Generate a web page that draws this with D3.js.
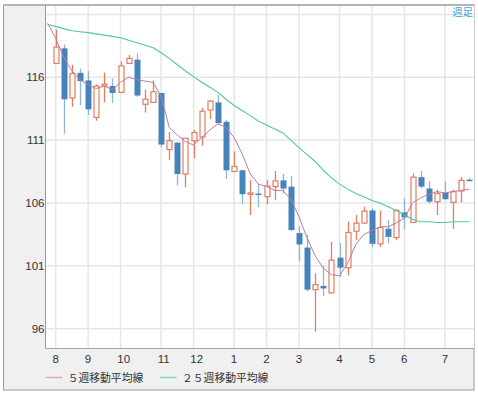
<!DOCTYPE html>
<html>
<head>
<meta charset="utf-8">
<script src="https://cdn.jsdelivr.net/npm/d3@7"></script>
<style>
  body { margin: 0; background: #fff; }
</style>
</head>
<body>
<div id="chart"></div>
<script>
// weekly candles, Aug .. Jul
var opens  = [117.1,118.3,114.35,116.35,115.75,112.8,115.3,115.3,114.8,117.1,117.4,113.85,114.0,114.75,110.25,110.8,108.3,110.95,111.25,113.4,114.0,112.45,108.5,108.6,106.7,106.75,106.5,107.3,107.8,107.3,103.6,102.45,99.1,99.4,98.85,101.65,100.85,103.75,104.4,105.4,102.75,103.95,103.25,105.25,104.45,108.05,107.15,106.1,106.8,106.05,106.95,107.85];
var highs  = [119.8,118.6,117.0,116.7,116.5,115.45,116.35,115.9,117.25,117.8,117.9,115.0,115.75,114.75,111.65,110.85,111.15,111.8,113.55,114.2,114.6,112.6,110.1,108.65,107.8,107.5,107.8,108.55,108.3,108.15,104.15,103.45,100.4,101.0,102.9,102.8,104.5,105.05,105.7,105.55,105.4,104.65,105.5,106.35,108.35,108.55,107.7,107.05,107.7,107.05,108.05,108.0];
var lows   = [117.1,111.5,113.65,113.8,113.0,112.55,114.0,113.95,114.8,117.1,114.45,113.2,114.0,110.45,109.4,107.4,107.25,109.55,110.55,112.65,112.35,107.9,108.5,105.9,105.05,105.65,105.9,106.25,106.75,103.75,101.4,98.95,95.75,98.6,98.8,100.1,100.25,103.05,104.3,102.5,102.5,102.8,103.05,103.9,104.45,107.15,105.95,105.05,106.25,103.95,106.05,107.75];
var closes = [118.4,114.25,116.3,115.7,113.45,115.3,115.45,114.75,116.9,117.5,114.55,114.25,114.85,110.65,110.95,108.3,111.15,111.6,113.3,114.1,112.35,108.6,108.9,106.7,106.8,106.65,107.35,107.75,107.15,103.85,102.7,99.1,99.5,99.2,101.45,100.85,103.65,104.4,105.35,102.75,104.05,103.3,105.4,104.85,108.05,107.3,106.1,106.75,106.3,106.9,107.8,107.75];

// moving averages, first value is the week before the first candle
var ma5  = [120.3,119.1,117.6,116.5,115.8,115.4,115.1,115.3,115.0,115.6,116.0,115.8,115.7,115.6,114.5,112.0,111.4,110.9,110.6,111.2,111.8,112.3,112.0,111.2,109.9,108.3,107.5,107.3,107.0,107.0,106.3,104.9,103.2,101.8,100.8,100.3,100.2,101.2,102.7,103.5,103.8,104.1,104.1,104.4,104.8,106.0,106.4,106.7,106.9,106.8,106.9,107.0,107.1];
var ma25 = [120.2,120.05,119.85,119.7,119.62,119.55,119.45,119.35,119.25,119.15,118.95,118.75,118.55,118.35,117.95,117.5,117.0,116.5,116.05,115.6,115.2,114.8,114.25,113.75,113.35,112.95,112.5,112.2,111.88,111.57,111.0,110.4,109.85,109.3,108.6,108.0,107.5,107.1,106.75,106.5,106.2,106.0,105.7,105.4,105.05,104.7,104.5,104.5,104.45,104.45,104.5,104.5,104.5];

var monthLabels = ['8','9','10','11','12','1','2','3','4','5','6','7'];
var monthWeeks  = [0,4,8,13,17,22,26,30,35,39,43,48];
var yTicks = [96,101,106,111,116];
var yGrid  = [96,101,106,111,116,121];

var width = 478, height = 393;
var plot = { left: 45.5, top: 6, right: 474, bottom: 348 };

var x = d3.scaleLinear().domain([0, 51]).range([55.7, 469.3]);
var y = d3.scaleLinear().domain([94.46, 121.67]).range([plot.bottom, plot.top]);

var svg = d3.select('#chart').append('svg')
  .attr('width', width)
  .attr('height', height);

// panel background
svg.append('rect')
  .attr('x', 3.5).attr('y', 5).attr('width', 470.5).attr('height', 385)
  .attr('fill', '#f0f0f0').attr('stroke', '#9a9a9a').attr('stroke-width', 1);
svg.append('line')
  .attr('x1', 3).attr('x2', 474.5).attr('y1', 5).attr('y2', 5)
  .attr('stroke', '#b4b4b4').attr('stroke-width', 2);

svg.append('rect')
  .attr('x', plot.left).attr('y', plot.top)
  .attr('width', plot.right - plot.left).attr('height', plot.bottom - plot.top)
  .attr('fill', '#fff');

svg.append('clipPath').attr('id', 'clip')
  .append('rect')
  .attr('x', plot.left).attr('y', plot.top)
  .attr('width', plot.right - plot.left).attr('height', plot.bottom - plot.top);

// grid
var grid = svg.append('g');
grid.selectAll('.hg').data(yGrid).enter().append('line')
  .attr('x1', plot.left).attr('x2', plot.right)
  .attr('y1', function(d) { return y(d); })
  .attr('y2', function(d) { return y(d); })
  .attr('stroke', '#e6e6e6').attr('stroke-width', 1.5);
grid.selectAll('.vg').data(monthWeeks).enter().append('line')
  .attr('x1', function(d) { return x(d); })
  .attr('x2', function(d) { return x(d); })
  .attr('y1', plot.top).attr('y2', plot.bottom)
  .attr('stroke', '#e6e6e6').attr('stroke-width', 1.5);

// axis labels
svg.append('g').selectAll('text').data(yTicks).enter().append('text')
  .attr('x', 44.5)
  .attr('y', function(d) { return y(d) + 4; })
  .attr('text-anchor', 'end')
  .attr('font-family', 'Liberation Sans, Arial, sans-serif')
  .attr('font-size', 11.5)
  .attr('fill', '#333')
  .text(function(d) { return d; });

svg.append('g').selectAll('text').data(monthWeeks).enter().append('text')
  .attr('x', function(d) { return x(d) - 3.3; })
  .attr('y', 363)
  .attr('font-family', 'Liberation Sans, Arial, sans-serif')
  .attr('font-size', 11.5)
  .attr('fill', '#333')
  .text(function(d, i) { return monthLabels[i]; });

// candles
var candles = svg.append('g').attr('clip-path', 'url(#clip)');
var data = opens.map(function(o, i) {
  return { i: i, o: o, h: highs[i], l: lows[i], c: closes[i], up: closes[i] >= o };
});

candles.selectAll('.wick').data(data).enter().append('line')
  .attr('x1', function(d) { return Math.round(x(d.i)) + 0.5; })
  .attr('x2', function(d) { return Math.round(x(d.i)) + 0.5; })
  .attr('y1', function(d) { return y(d.h); })
  .attr('y2', function(d) { return y(d.l); })
  .attr('stroke', function(d) { return d.up ? '#e27d62' : '#8bb6dc'; })
  .attr('stroke-width', 1.3);

candles.selectAll('.body').data(data).enter().append('rect')
  .attr('x', function(d) { return Math.round(x(d.i)) + 0.5 - (d.up ? 2.5 : 3); })
  .attr('y', function(d) { return y(Math.max(d.o, d.c)); })
  .attr('width', function(d) { return d.up ? 5 : 6; })
  .attr('height', function(d) { return Math.max(1.5, Math.abs(y(d.o) - y(d.c))); })
  .attr('fill', function(d) { return d.up ? '#fff' : '#4683ba'; })
  .attr('stroke', function(d) { return d.up ? '#e27d62' : 'none'; })
  .attr('stroke-width', 1.2);

// moving averages
var line = d3.line()
  .x(function(d, i) { return x(i - 1); })
  .y(function(d) { return y(d); });

var lines = svg.append('g').attr('clip-path', 'url(#clip)');
lines.append('path').datum(ma25)
  .attr('d', line).attr('fill', 'none')
  .attr('stroke', '#4fcb92').attr('stroke-width', 1.1);
lines.append('path').datum(ma5)
  .attr('d', line).attr('fill', 'none')
  .attr('stroke', '#c27a9c').attr('stroke-width', 1);

// plot border
svg.append('line')
  .attr('x1', plot.left).attr('x2', plot.left).attr('y1', plot.top).attr('y2', plot.bottom)
  .attr('stroke', '#9a9a9a');
svg.append('line')
  .attr('x1', plot.left).attr('x2', plot.right).attr('y1', plot.bottom + 0.5).attr('y2', plot.bottom + 0.5)
  .attr('stroke', '#a8a8a8');

// legend
var legendItems = [
  { label: '５週移動平均線', color: '#e8a6c0', x: 45.7 },
  { label: '２５週移動平均線', color: '#86dbb4', x: 160 }
];
var legend = svg.append('g');
legend.selectAll('line').data(legendItems).enter().append('line')
  .attr('x1', function(d) { return d.x; })
  .attr('x2', function(d) { return d.x + 16.5; })
  .attr('y1', 377.5).attr('y2', 377.5)
  .attr('stroke', function(d) { return d.color; })
  .attr('stroke-width', 1.5);
legend.selectAll('text').data(legendItems).enter().append('text')
  .attr('x', function(d) { return d.x + 22; })
  .attr('y', 381.5)
  .attr('font-family', 'Noto Sans CJK JP, sans-serif')
  .attr('font-size', 10.8)
  .attr('fill', '#333')
  .text(function(d) { return d.label; });

// period label
svg.append('text')
  .attr('x', 473).attr('y', 16)
  .attr('text-anchor', 'end')
  .attr('font-family', 'Noto Sans CJK JP, sans-serif')
  .attr('font-size', 10.5)
  .attr('fill', '#3aa8e0')
  .text('週足');
</script>
</body>
</html>
